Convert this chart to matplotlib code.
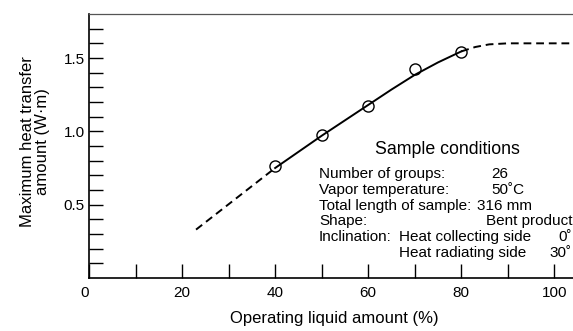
import numpy as np
import matplotlib.pyplot as plt

plt.rcParams['font.family'] = ['Liberation Sans', 'DejaVu Sans']

# measured points (open circles)
x_meas = [40, 50, 60, 70, 80]
y_meas = [0.765, 0.975, 1.17, 1.425, 1.54]

# solid fitted curve
x_fit = [40, 45, 50, 55, 60, 65, 70, 75, 80]
y_fit = [0.75, 0.86, 0.97, 1.075, 1.18, 1.285, 1.385, 1.47, 1.545]

# dashed extrapolations
x_low = [23, 40]
y_low = [0.33, 0.75]
x_high = [80, 83, 86, 90, 104]
y_high = [1.545, 1.575, 1.593, 1.60, 1.60]

fig = plt.figure(figsize=(5.73, 3.31), dpi=100)
W, H = 573, 331
ax = fig.add_axes([89 / W, 1 - 278 / H, (573 - 89) / W, (278 - 14) / H])

ax.plot(x_fit, y_fit, 'k-', lw=1.4)
ax.plot(x_low, y_low, 'k--', lw=1.4, dashes=(4, 2.5))
ax.plot(x_high, y_high, 'k--', lw=1.4, dashes=(4, 2.5))
ax.plot(x_meas, y_meas, 'o', mfc='none', mec='black', ms=8, mew=1.0)

ax.set_xlim(0, 104)
ax.set_ylim(0, 1.8)
ax.set_xticks(np.arange(0, 101, 20))
ax.set_xticks(np.arange(10, 101, 20), minor=True)
ax.set_yticks([0.5, 1.0, 1.5])
ax.set_yticks(np.arange(0.1, 1.8, 0.1), minor=True)
ax.set_yticklabels(['0.5', '1.0', '1.5'])
ax.tick_params(which='both', direction='in', length=10, width=1.0,
               labelsize=11)
ax.tick_params(axis='y', which='both', pad=3)
ax.tick_params(axis='x', which='both', pad=6)
for lbl in ax.get_xticklabels():
    if lbl.get_text() == '0':
        lbl.set_horizontalalignment('right')

ax.spines['right'].set_visible(False)
ax.spines['top'].set_color('#555555')
ax.spines['top'].set_linewidth(0.9)
ax.spines['left'].set_linewidth(1.2)
ax.spines['bottom'].set_linewidth(1.2)

fig.text(334 / W, 1 - 318 / H, 'Operating liquid amount (%)',
         ha='center', va='center', fontsize=12)
fig.text(35 / W, 1 - 142 / H, 'Maximum heat transfer\namount (W·m)',
         ha='center', va='center', rotation=90, fontsize=12,
         linespacing=1.0)


def t(x, y, s, ha='left', fs=11):
    fig.text(x / W, 1 - y / H, s, ha=ha, va='center', fontsize=fs)


t(447, 150, 'Sample conditions', ha='center', fs=12.8)
t(319, 174, 'Number of groups:')
t(491, 174, '26')
t(319, 190, 'Vapor temperature:')
t(491, 190, '50˚C')
t(319, 206, 'Total length of sample:')
t(477, 206, '316 mm')
t(319, 221, 'Shape:')
t(572, 221, 'Bent product', ha='right')
t(319, 237, 'Inclination:')
t(399, 237, 'Heat collecting side')
t(572, 237, '0˚', ha='right')
t(399, 253, 'Heat radiating side')
t(572, 253, '30˚', ha='right')

fig.savefig('out.png', dpi=100)
